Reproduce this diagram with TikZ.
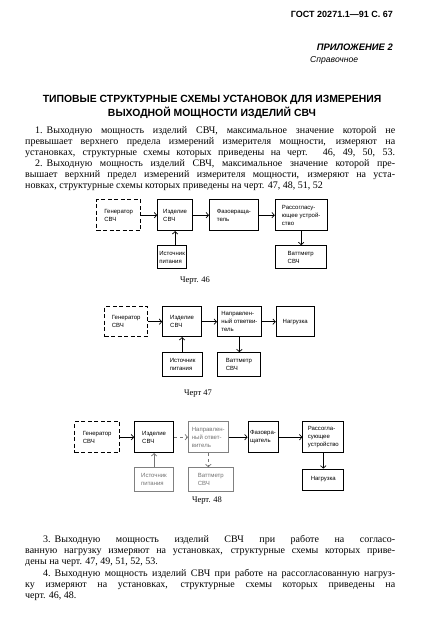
\documentclass[tikz,border=0pt]{standalone}
\usepackage{fontspec}
\setmainfont{Liberation Serif}
\setsansfont{Liberation Sans}
\usetikzlibrary{matrix,arrows.meta}

\tikzset{
	blk/.style={draw, line width=0.8pt, anchor=west, inner sep=1.5pt, align=left,
		font=\sffamily\fontsize{6}{8}\selectfont, minimum height=31pt},
	low/.style={blk, minimum height=23pt},
	gen/.style={blk, dash pattern=on 4pt off 2.5pt, line width=1pt},
	faint/.style={draw=black!50, text=black!55, line width=0.6pt},
	arr/.style={-{Straight Barb[length=2.5pt,width=5.5pt]}, line width=0.7pt},
	capt/.style={font=\fontsize{8.5}{10}\selectfont, inner sep=0pt},
	txtline/.style={anchor=base west, inner sep=0pt, font=\fontsize{10}{11}\selectfont}
}
\newcommand{\nsp}{\hspace{0.4em}}

\begin{document}
\begin{tikzpicture}[x=1pt,y=-1pt]
	\useasboundingbox (0,0) rectangle (424,633);
	\fill[white] (0,0) rectangle (424,633);

	% page head
	\node[anchor=east, inner sep=0pt, font=\sffamily\bfseries\fontsize{9}{10}\selectfont] (gost) at (393,14) {ГОСТ 20271.1—91 С. 67};
	\node[anchor=east, inner sep=0pt, font=\sffamily\bfseries\itshape\fontsize{9.4}{10}\selectfont] (pril) at (393,47) {ПРИЛОЖЕНИЕ 2};
	\node[anchor=west, inner sep=0pt, font=\sffamily\itshape\fontsize{8.6}{9}\selectfont] (sprav) at (310,60) {Справочное};
	\node[inner sep=0pt, font=\sffamily\bfseries\fontsize{10.4}{12}\selectfont] (tit1) at (212,100) {ТИПОВЫЕ СТРУКТУРНЫЕ СХЕМЫ УСТАНОВОК ДЛЯ ИЗМЕРЕНИЯ};
	\node[inner sep=0pt, font=\sffamily\bfseries\fontsize{10.4}{12}\selectfont] (tit2) at (212,112.5) {ВЫХОДНОЙ МОЩНОСТИ ИЗДЕЛИЙ СВЧ};

	\node[txtline] (p1a) at (35,133) {\makebox[360pt][s]{1.\nsp Выходную мощность изделий СВЧ, максимальное значение которой не}};
	\node[txtline] (p1b) at (25,144) {\makebox[370pt][s]{превышает верхнего предела измерений измерителя мощности, измеряют на}};
	\node[txtline] (p1c) at (25,155) {\makebox[370pt][s]{установках, структурные схемы которых приведены на черт. 46, 49, 50, 53.}};
	\node[txtline] (p2a) at (35,166) {\makebox[360pt][s]{2.\nsp Выходную мощность изделий СВЧ, максимальное значение которой пре-}};
	\node[txtline] (p2b) at (25,177) {\makebox[370pt][s]{вышает верхний предел измерений измерителя мощности, измеряют на уста-}};
	\node[txtline] (p2c) at (25,188) {новках, структурные схемы которых приведены на черт. 47, 48, 51, 52};

	% черт. 46
	\matrix (m46) [anchor=north west, column sep=16pt, row sep=14pt, inner sep=0pt] at (96,199) {
		\node[gen, minimum width=44pt] (gen46) {Генератор\\СВЧ}; &
		\node[blk, minimum width=35pt] (izd46) {Изделие\\СВЧ}; &
		\node[blk, minimum width=49pt] (faz46) {Фазовраща-\\тель}; &
		\node[blk, minimum width=52pt] (ras46) {Рассогласу-\\ющее устрой-\\ство}; \\
		& \node[low, minimum width=29pt] (ist46) {Источник\\питания}; & &
		\node[low, minimum width=51pt] (vat46) {Ваттметр\\СВЧ}; \\
	};
	\path[arr]
	(gen46) edge (izd46)
	(izd46) edge (faz46)
	(faz46) edge (ras46)
	(izd46.south |- ist46.north) edge (izd46.south)
	(ras46.south) edge (ras46.south |- vat46.north);
	\node[capt] (c46) at (195,281) {Черт. 46};

	% черт. 47
	\matrix (m47) [anchor=north west, column sep=14pt, row sep=15pt, inner sep=0pt] at (104,306) {
		\node[gen, minimum width=43pt, minimum height=30pt] (gen47) {Генератор\\СВЧ}; &
		\node[blk, minimum width=39pt, minimum height=30pt] (izd47) {Изделие\\СВЧ}; &
		\node[blk, minimum width=44pt, minimum height=30pt] (nap47) {Направлен-\\ный ответви-\\тель}; &
		\node[blk, minimum width=38pt, minimum height=30pt] (nag47) {Нагрузка}; \\
		& \node[low, minimum width=40pt, minimum height=24pt] (ist47) {Источник\\питания}; &
		\node[low, minimum width=43pt, minimum height=24pt] (vat47) {Ваттметр\\СВЧ}; & \\
	};
	\path[arr]
	(gen47) edge (izd47)
	(izd47) edge (nap47)
	(nap47) edge (nag47)
	(izd47.south |- ist47.north) edge (izd47.south)
	(nap47.south) edge (nap47.south |- vat47.north);
	\node[capt] (c47) at (198,394) {Черт 47};

	% черт. 48
	\matrix (m48) [anchor=north west, column sep=14pt, row sep=14pt, inner sep=0pt] at (74,421) {
		\node[gen, minimum width=45pt] (gen48) {Генератор\\СВЧ}; &
		\node[blk, minimum width=39pt] (izd48) {Изделие\\СВЧ}; &
		\node[blk, faint, minimum width=40pt] (nap48) {Направлен-\\ный ответ-\\витель}; &
		\node[blk, minimum width=30pt, inner sep=1pt] (faz48) {Фазовра-\\щатель}; &[10pt]
		\node[blk, minimum width=41pt, inner sep=1pt] (ras48) {Рассогла-\\сующее\\устройство}; \\
		& \node[low, faint, minimum width=39pt, minimum height=24pt] (ist48) {Источник\\питания}; &
		\node[low, faint, minimum width=45pt, minimum height=24pt] (vat48) {Ваттметр\\СВЧ}; & &
		\node[low, minimum width=41pt, minimum height=21pt] (nag48) {Нагрузка}; \\
	};
	\path[arr]
	(gen48) edge (izd48)
	(nap48) edge (faz48)
	(faz48) edge (ras48)
	(ras48.south) edge (ras48.south |- nag48.north);
	\path[arr, black!55, dashed]
	(izd48) edge (nap48)
	(nap48.south) edge (nap48.south |- vat48.north);
	\path[arr, black!55]
	(izd48.south |- ist48.north) edge (izd48.south);
	\node[capt] (c48) at (207,501) {Черт. 48};

	\node[txtline] (p3a) at (43,542) {\makebox[352pt][s]{3.\nsp Выходную мощность изделий СВЧ при работе на согласо-}};
	\node[txtline] (p3b) at (25,553) {\makebox[370pt][s]{ванную нагрузку измеряют на установках, структурные схемы которых приве-}};
	\node[txtline] (p3c) at (25,564) {дены на черт. 47, 49, 51, 52, 53.};
	\node[txtline] (p4a) at (43,576) {\makebox[352pt][s]{4.\nsp Выходную мощность изделий СВЧ при работе на рассогласованную нагруз-}};
	\node[txtline] (p4b) at (25,587) {\makebox[370pt][s]{ку измеряют на установках, структурные схемы которых приведены на}};
	\node[txtline] (p4c) at (25,598) {черт. 46, 48.};
\end{tikzpicture}
\end{document}
